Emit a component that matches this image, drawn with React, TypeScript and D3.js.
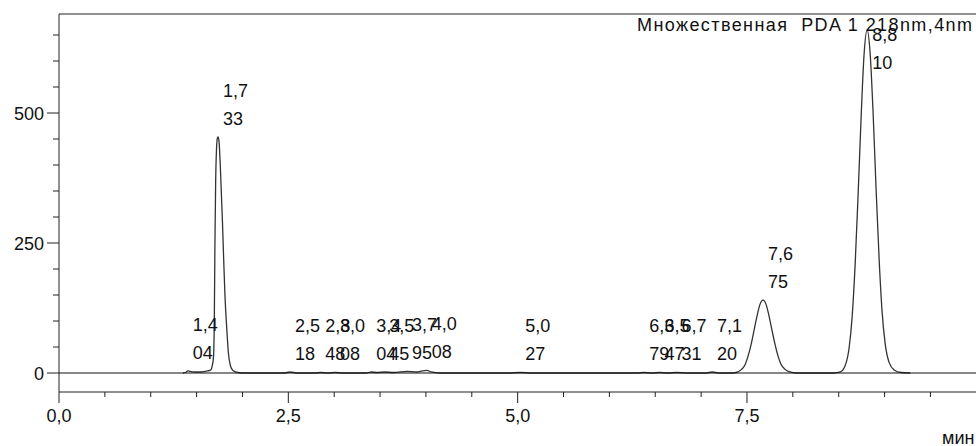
import React, { useEffect, useRef } from 'react';
import * as d3 from 'd3';

const W = 976;
const H = 446;
const M = { left: 59, right: 976.3, top: 14, bottom: 392 };

// retention times and apex heights of the integrated peaks (mAU)
const peakTimes = [1.404, 1.733, 2.518, 2.848, 3.008, 3.404, 3.545, 3.795, 4.008, 5.027, 6.379, 6.547, 6.731, 7.12, 7.675, 8.81];
const peakHeights = [4, 454, 2, 1, 1, 2, 2, 3, 5, 1, 1, 1, 1, 2, 140, 660];

// chromatogram trace: [min, mAU]
const tracePoints: [number, number][] = [
    [1.35, 0], [1.38, 1], [1.404, 4], [1.43, 3], [1.48, 2], [1.55, 2], [1.62, 4], [1.655, 6],
    [1.668, 12], [1.684, 30], [1.693, 100], [1.7, 250], [1.708, 370], [1.717, 430], [1.727, 452],
    [1.736, 454], [1.746, 442], [1.758, 400], [1.77, 345], [1.782, 290], [1.795, 220], [1.809, 150],
    [1.828, 88], [1.847, 38], [1.869, 14], [1.896, 5], [1.951, 1], [2.03, 0],
    [2.45, 0], [2.518, 2], [2.6, 0], [2.8, 0], [2.848, 1], [2.93, 0], [3.008, 1], [3.1, 0],
    [3.35, 0], [3.404, 2], [3.47, 1], [3.545, 2], [3.65, 1], [3.795, 3], [3.9, 2], [3.96, 4],
    [4.008, 5], [4.06, 2], [4.15, 0], [4.9, 0], [5.027, 1], [5.15, 0], [6.3, 0], [6.379, 1],
    [6.46, 0], [6.547, 1], [6.64, 0], [6.731, 1], [6.85, 0], [7.05, 0], [7.12, 2], [7.2, 0],
    [7.315, 0], [7.381, 1], [7.435, 6], [7.479, 16], [7.511, 32], [7.544, 54], [7.577, 82],
    [7.61, 110], [7.642, 132], [7.675, 140], [7.708, 132], [7.74, 110], [7.773, 82], [7.806, 55],
    [7.838, 33], [7.871, 17], [7.915, 7], [7.969, 2], [8.035, 0],
    [8.45, 0], [8.516, 2], [8.57, 14], [8.614, 49], [8.647, 109], [8.679, 208], [8.712, 345],
    [8.745, 495], [8.777, 614], [8.81, 660], [8.843, 614], [8.875, 500], [8.908, 352], [8.941, 218],
    [8.973, 118], [9.006, 57], [9.05, 20], [9.104, 6], [9.18, 1], [9.28, 0],
];

const yMajorTicks = [0, 250, 500];
const yMinorTicks = [50, 100, 150, 200, 300, 350, 400, 450, 550, 600, 650];
const xMajorTicks = [0, 2.5, 5, 7.5];
const xMinorTicks = [0.5, 1, 1.5, 2, 3, 3.5, 4, 4.5, 5.5, 6, 6.5, 7, 8, 8.5, 9, 9.5];
const titleText = 'Множественная  PDA 1 218nm,4nm';
const xUnit = 'мин';

const FONT = '"Liberation Sans", Arial, sans-serif';
const INK = '#111';

const comma = (v: number, d: number) => v.toFixed(d).replace('.', ',');

export default function App() {
    const ref = useRef<SVGSVGElement>(null);

    useEffect(() => {
        const svg = d3.select(ref.current);
        svg.selectAll('*').remove();

        const x = d3.scaleLinear().domain([0, 10]).range([M.left, M.right]);
        const y = d3.scaleLinear().domain([-36.5, 690.4]).range([M.bottom, M.top]);

        svg.append('defs').append('clipPath').attr('id', 'plot')
            .append('rect')
            .attr('x', M.left).attr('y', M.top)
            .attr('width', M.right - M.left).attr('height', M.bottom - M.top);

        const g = svg.append('g')
            .style('font-family', FONT)
            .style('font-size', '18px')
            .attr('fill', INK);

        // frame
        g.append('line').attr('x1', M.left).attr('x2', W).attr('y1', M.top).attr('y2', M.top)
            .attr('stroke', '#222');
        g.append('line').attr('x1', M.left).attr('x2', M.left).attr('y1', M.top).attr('y2', M.bottom)
            .attr('stroke', '#222');
        g.append('line').attr('x1', M.left).attr('x2', W).attr('y1', M.bottom).attr('y2', M.bottom)
            .attr('stroke', '#222');

        // y ticks
        g.selectAll('.ymin').data(yMinorTicks).enter().append('line')
            .attr('x1', M.left - 6).attr('x2', M.left)
            .attr('y1', d => y(d)).attr('y2', d => y(d))
            .attr('stroke', '#222');
        g.selectAll('.ymaj').data(yMajorTicks).enter().append('line')
            .attr('x1', M.left - 12).attr('x2', M.left)
            .attr('y1', d => y(d)).attr('y2', d => y(d))
            .attr('stroke', '#222');
        g.selectAll('.ylab').data(yMajorTicks).enter().append('text')
            .attr('x', M.left - 15).attr('y', d => y(d) + 7)
            .attr('text-anchor', 'end')
            .text(d => String(d));

        // x ticks
        g.selectAll('.xmin').data(xMinorTicks).enter().append('line')
            .attr('x1', d => x(d)).attr('x2', d => x(d))
            .attr('y1', M.bottom).attr('y2', M.bottom + 5)
            .attr('stroke', '#222');
        g.selectAll('.xmaj').data(xMajorTicks).enter().append('line')
            .attr('x1', d => x(d)).attr('x2', d => x(d))
            .attr('y1', M.bottom).attr('y2', M.bottom + 11)
            .attr('stroke', '#222');
        g.selectAll('.xlab').data(xMajorTicks).enter().append('text')
            .attr('x', d => x(d)).attr('y', 422)
            .attr('text-anchor', 'middle')
            .text(d => comma(d, 1));
        g.append('text').attr('x', 942).attr('y', 444).text(xUnit);

        // trace
        const line = d3.line<[number, number]>()
            .x(d => x(d[0]))
            .y(d => y(d[1]))
            .curve(d3.curveMonotoneX);
        g.append('path')
            .attr('clip-path', 'url(#plot)')
            .attr('d', line(tracePoints))
            .attr('fill', 'none')
            .attr('stroke', '#333')
            .attr('stroke-width', 1.3);

        // zero line
        g.append('line').attr('x1', M.left).attr('x2', W).attr('y1', y(0)).attr('y2', y(0))
            .attr('stroke', '#111').attr('stroke-width', 1.2);

        // peak labels: retention time split over two rows
        const peaks = peakTimes.map((t, i) => ({ t, h: peakHeights[i] }));
        const lab = g.selectAll('.peak').data(peaks).enter().append('g');
        const row2 = (d: { h: number }) => Math.max(y(d.h) - 12, M.top + 55);
        lab.append('text')
            .attr('x', d => x(d.t) + 5).attr('y', d => row2(d) - 28)
            .text(d => comma(d.t, 3).slice(0, 3));
        lab.append('text')
            .attr('x', d => x(d.t) + 5).attr('y', d => row2(d))
            .text(d => comma(d.t, 3).slice(3));

        // title
        g.append('text')
            .attr('x', 972).attr('y', 31)
            .attr('text-anchor', 'end')
            .attr('textLength', 335)
            .attr('lengthAdjust', 'spacing')
            .style('white-space', 'pre')
            .text(titleText);
    }, []);

    return (
        <svg
            ref={ref}
            width={W}
            height={H}
            style={{ position: 'absolute', left: 0, top: 0, background: '#fff' }}
        />
    );
}
